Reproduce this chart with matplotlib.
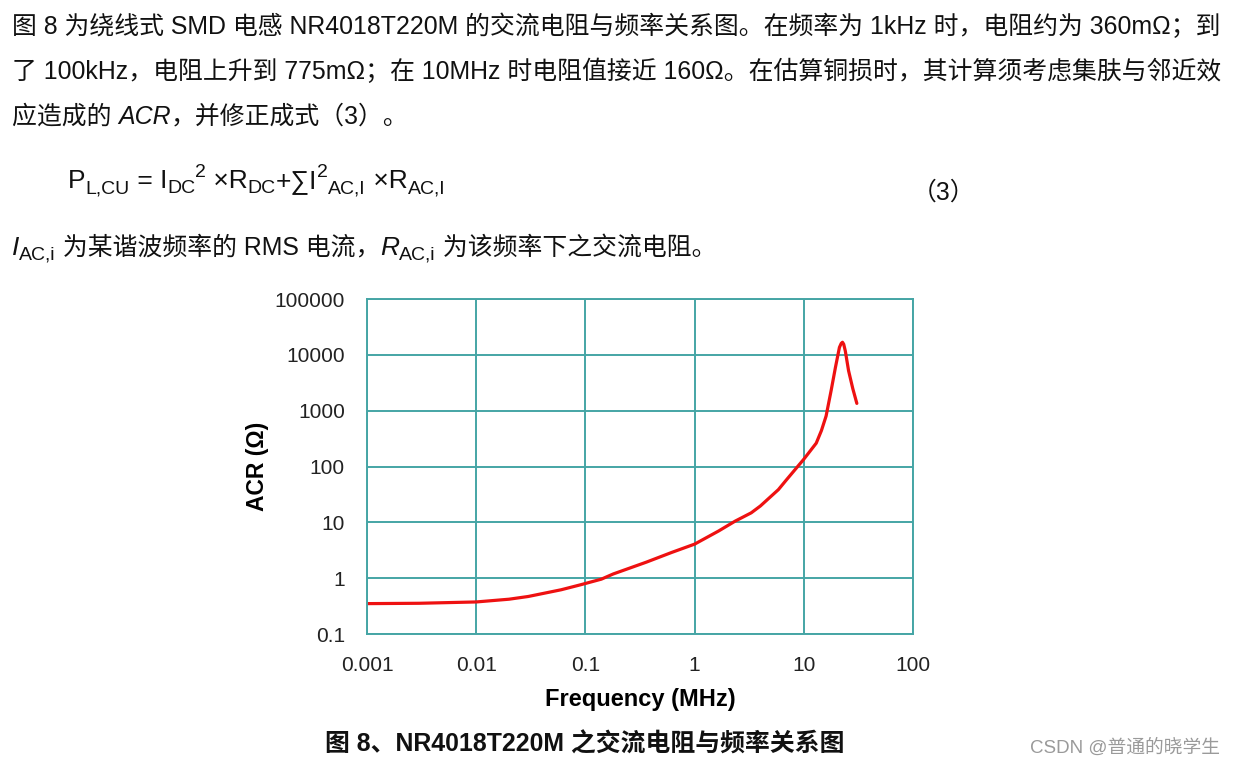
import matplotlib
matplotlib.use("Agg")
import matplotlib.pyplot as plt
from matplotlib.ticker import FixedLocator, NullLocator

# curve: frequency (MHz) and ACR (ohm)
freq_mhz = [0.001, 0.003, 0.01, 0.02, 0.03, 0.06, 0.09, 0.14, 0.18, 0.36, 0.62,
            1, 1.66, 2.35, 3.3, 4, 5.85, 6.9, 10, 13, 14.5, 16, 17.8, 19.5, 21.2,
            22, 22.6, 23.2, 24, 25.7, 28.1, 30.6]
acr_ohm = [0.35, 0.355, 0.375, 0.42, 0.47, 0.62, 0.76, 0.96, 1.19, 1.93, 2.9,
           4.07, 7.0, 10.5, 14.8, 19.6, 38.5, 57, 135, 262, 440, 800, 2300, 6000,
           13600, 16000, 16800, 15500, 11700, 5200, 2480, 1350]

x_ticks = [0.001, 0.01, 0.1, 1, 10, 100]
x_labels = ["0.001", "0.01", "0.1", "1", "10", "100"]
y_ticks = [0.1, 1, 10, 100, 1000, 10000, 100000]
y_labels = ["0.1", "1", "10", "100", "1000", "10000", "100000"]

line1 = "图 8 为绕线式 SMD 电感 NR4018T220M 的交流电阻与频率关系图。在频率为 1kHz 时，电阻约为 360mΩ；到"
line2 = "了 100kHz，电阻上升到 775mΩ；在 10MHz 时电阻值接近 160Ω。在估算铜损时，其计算须考虑集肤与邻近效"
caption = "图 8、NR4018T220M 之交流电阻与频率关系图"
watermark = "CSDN @普通的晓学生"

W, H = 1236, 765
FAM = ["Liberation Sans", "Noto Sans CJK SC"]
grid_c = "#45a5a5"
BODY = 17.9

fig = plt.figure(figsize=(W / 100, H / 100), dpi=100, facecolor="white")
rend = fig.canvas.get_renderer()


def run(x, y, pieces, size=BODY):
    # draw text pieces one after another, x/y in pixels from top-left
    for txt, kw in pieces:
        kw = dict(kw)
        dy = kw.pop("dy", 0)
        sz = kw.pop("size", size)
        kw.setdefault("color", "#111111")
        t = fig.text(x / W, 1 - (y + dy) / H, txt, fontsize=sz, family=FAM,
                     va="baseline", ha="left", **kw)
        x += t.get_window_extent(rend).width
    return x


run(12, 34, [(line1, {})])
run(12, 79, [(line2, {})])
run(12, 124, [("应造成的 ", {}), ("ACR", {"style": "italic"}), ("，并修正成式（3）。", {})])

sub = {"size": 14, "dy": 5}
sup = {"size": 14, "dy": -11}
run(68, 188, [("P", {}), ("L,CU", sub), (" = I", {}), ("DC", sub), ("2", sup),
              (" ×R", {}), ("DC", sub), ("+∑I", {}), ("2", sup), ("AC,I", sub),
              (" ×R", {}), ("AC,I", sub)], size=19)
run(912, 200, [("（3）", {})])

run(12, 255, [("I", {"style": "italic", "size": 19}), ("AC,i", sub),
              (" 为某谐波频率的 RMS 电流，", {}), ("R", {"style": "italic", "size": 19}),
              ("AC,i", sub), (" 为该频率下之交流电阻。", {})])

run(325, 752, [(caption, {"weight": "bold", "size": 17.9})])
run(1030, 753, [(watermark, {"color": "#9a9a9a", "size": 13.5})])

# chart
ax = fig.add_axes([367 / W, 1 - 634 / H, (913 - 367) / W, (634 - 299) / H])
ax.plot(freq_mhz, acr_ohm, color="#ee1111", lw=2.3, solid_capstyle="round",
        solid_joinstyle="round")
ax.set_xscale("log")
ax.set_yscale("log")
ax.set_xlim(0.001, 100)
ax.set_ylim(0.1, 100000)
ax.xaxis.set_major_locator(FixedLocator(x_ticks))
ax.yaxis.set_major_locator(FixedLocator(y_ticks))
ax.xaxis.set_minor_locator(NullLocator())
ax.yaxis.set_minor_locator(NullLocator())
ax.set_xticklabels(x_labels, family=FAM, fontsize=15, color="#222222")
ax.set_yticklabels(y_labels, family=FAM, fontsize=15, color="#222222")
ax.tick_params(axis="x", length=0, pad=16)
ax.tick_params(axis="y", length=0, pad=16)
ax.grid(True, color=grid_c, lw=1.4)
for s in ax.spines.values():
    s.set_color(grid_c)
    s.set_linewidth(1.4)
ax.set_xlabel("Frequency (MHz)", family=FAM, fontsize=17, weight="bold", labelpad=9)
ax.set_ylabel("ACR (Ω)", family=FAM, fontsize=16.5, weight="bold", labelpad=4)

fig.savefig("out.png", dpi=100, facecolor="white")
